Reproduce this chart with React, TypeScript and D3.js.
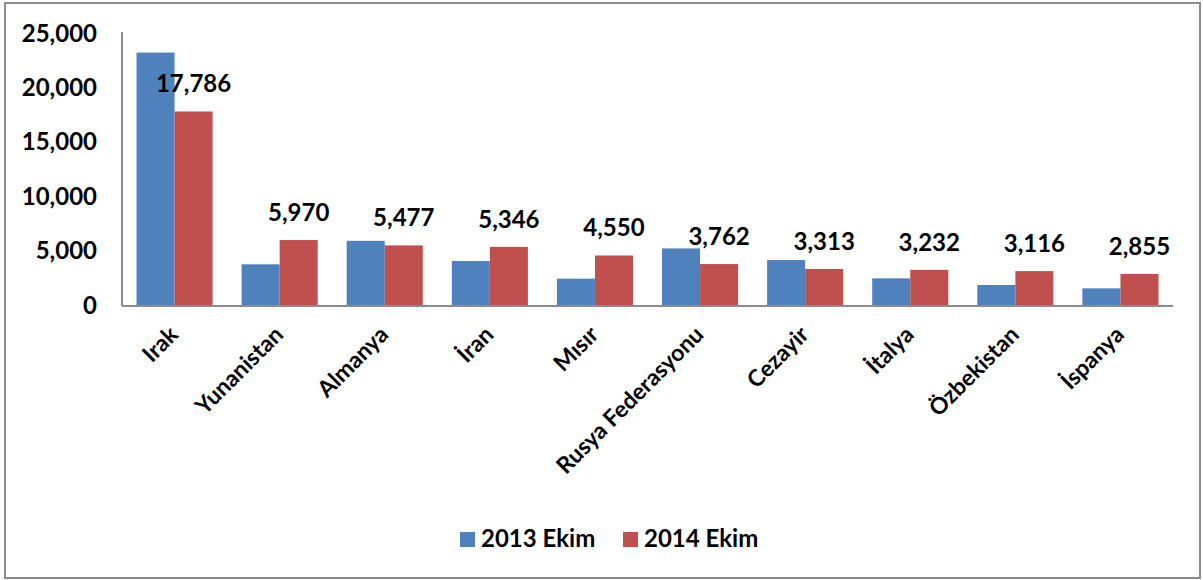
import React from "react";
import * as d3 from "d3";

const categories = ["Irak", "Yunanistan", "Almanya", "İran", "Mısır", "Rusya Federasyonu", "Cezayir", "İtalya", "Özbekistan", "İspanya"];
const series2013 = [23200, 3740, 5900, 4040, 2420, 5200, 4130, 2450, 1840, 1530];
const series2014 = [17786, 5970, 5477, 5346, 4550, 3762, 3313, 3232, 3116, 2855];
const yTicks = [0, 5000, 10000, 15000, 20000, 25000];
const seriesNames = ["2013 Ekim", "2014 Ekim"];
const colors = ["#4F81BD", "#C0504D"];

export default function App() {
  const W = 1203, H = 580;
  const left = 122, right = 1173, top = 33, bottom = 305;
  const x = d3.scaleBand<string>().domain(categories).range([left, right]).paddingInner(0.276).paddingOuter(0.138);
  const xs = d3.scaleBand<number>().domain([0, 1]).range([0, x.bandwidth()]);
  const y = d3.scaleLinear().domain([0, 25000]).range([bottom, top]);
  const fmt = d3.format(",");
  const font = "Lato, 'Open Sans', sans-serif";
  const data = [series2013, series2014];
  const legendX = [460, 623];
  return (
    <div style={{ position: "absolute", left: 0, top: 0 }}>
      <svg width={W} height={H} style={{ display: "block", fontFamily: font }}>
        <rect x={0} y={0} width={W} height={H} fill="#fff" />
        <rect x={5} y={3} width={1195} height={575} fill="none" stroke="#8c8c8c" strokeWidth={2} />
        {data.map((s, si) =>
          s.map((v, i) => (
            <rect key={si + "-" + i} x={(x(categories[i]) as number) + (xs(si) as number)} y={y(v)} width={xs.bandwidth()} height={bottom - y(v)} fill={colors[si]} />
          ))
        )}
        <line x1={left} x2={left} y1={top - 1} y2={bottom + 1} stroke="#8c8c8c" strokeWidth={2} />
        <line x1={left} x2={right} y1={bottom + 1} y2={bottom + 1} stroke="#8c8c8c" strokeWidth={2} />
        {yTicks.map((t) => (
          <text key={t} x={97} y={y(t)} dy="0.36em" textAnchor="end" fontSize={24} fontWeight={700} fill="#000">{fmt(t)}</text>
        ))}
        {series2014.map((v, i) => (
          <text key={"l" + i} x={(x(categories[i]) as number) + (xs(1) as number) + xs.bandwidth() / 2} y={y(v) - 19} textAnchor="middle" fontSize={24} fontWeight={700} fill="#000">{fmt(v)}</text>
        ))}
        {categories.map((c, i) => {
          const cx = (x(c) as number) + x.bandwidth() / 2 + 5;
          const cy = 336;
          return (
            <text key={"c" + i} x={cx} y={cy} textAnchor="end" transform={`rotate(-45 ${cx} ${cy})`} fontSize={23} fontWeight={700} fill="#000">{c}</text>
          );
        })}
        {seriesNames.map((n, i) => (
          <g key={"lg" + i} transform={`translate(${legendX[i]},0)`}>
            <rect x={0} y={532} width={15} height={15} fill={colors[i]} />
            <text x={21} y={547} fontSize={24} fontWeight={700} fill="#000">{n}</text>
          </g>
        ))}
      </svg>
    </div>
  );
}
